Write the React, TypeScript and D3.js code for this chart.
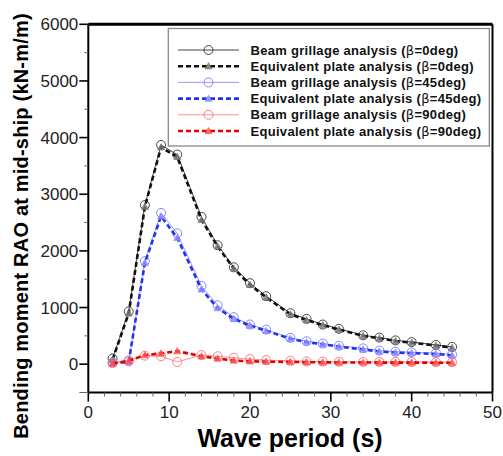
import React from "react";
import * as d3 from "d3";

const periods = [3, 5, 7, 9, 11, 14, 16, 18, 20, 22, 25, 27, 29, 31, 34, 36, 38, 40, 43, 45];

const beam0 = [100, 930, 2810, 3870, 3700, 2600, 2100, 1710, 1430, 1200, 900, 800, 700, 625, 510, 470, 420, 390, 340, 305];
const plate0 = [80, 900, 2780, 3830, 3660, 2550, 2080, 1690, 1400, 1180, 880, 780, 690, 610, 500, 455, 410, 380, 330, 290];
const beam45 = [30, 50, 1820, 2670, 2310, 1380, 1040, 830, 700, 610, 465, 405, 365, 325, 280, 240, 220, 210, 195, 170];
const plate45 = [20, 40, 1790, 2610, 2230, 1320, 990, 800, 680, 590, 450, 390, 350, 310, 260, 225, 205, 195, 180, 155];
const beam90 = [20, 70, 150, 140, 40, 160, 140, 112, 90, 72, 60, 50, 45, 42, 40, 40, 40, 38, 36, 35];
const plate90 = [10, 60, 160, 190, 230, 140, 100, 65, 50, 45, 40, 35, 32, 30, 30, 28, 28, 28, 26, 25];

const xTicks = [0, 10, 20, 30, 40, 50];
const yTicks = [0, 1000, 2000, 3000, 4000, 5000, 6000];

const legendLabels = [
  ["Beam grillage analysis (", "β", "=0deg)"],
  ["Equivalent plate analysis (", "β", "=0deg)"],
  ["Beam grillage analysis (", "β", "=45deg)"],
  ["Equivalent plate analysis (", "β", "=45deg)"],
  ["Beam grillage analysis (", "β", "=90deg)"],
  ["Equivalent plate analysis (", "β", "=90deg)"],
];

type Series = {
  values: number[];
  kind: "beam" | "plate";
  line: string;
  marker: string;
};

const series: Series[] = [
  { values: beam0, kind: "beam", line: "#444", marker: "#333" },
  { values: plate0, kind: "plate", line: "#111", marker: "#777" },
  { values: beam45, kind: "beam", line: "#9a9aff", marker: "#7777ff" },
  { values: plate45, kind: "plate", line: "#2233ee", marker: "#8888ff" },
  { values: beam90, kind: "beam", line: "#ff9090", marker: "#ff7070" },
  { values: plate90, kind: "plate", line: "#e00000", marker: "#ff5050" },
];

const W = 503;
const H = 456;
const left = 88.3;
const right = 492.5;
const top = 24.3;
const bottom = 392.5;

const FONT = "'Liberation Sans', Arial, sans-serif";

function Marker({ kind, x, y, color }: { kind: string; x: number; y: number; color: string }) {
  if (kind === "beam") {
    return <circle cx={x} cy={y} r={4.5} fill="none" stroke={color} strokeWidth={0.9} />;
  }
  const s = 3.6;
  const p = `M${x},${y - s} L${x + s},${y + s * 0.75} L${x - s},${y + s * 0.75} Z`;
  return <path d={p} fill={color} fillOpacity={0.85} stroke={color} strokeWidth={0.6} />;
}

export default function App() {
  const x = d3.scaleLinear().domain([0, 50]).range([left, right]);
  const y = d3.scaleLinear().domain([-500, 6000]).range([bottom, top]);

  const xMinor = d3.range(0, 51, 2).filter((v) => v % 10 !== 0);
  const yMinor = d3.range(-500, 6001, 500).filter((v) => v % 1000 !== 0);

  const lineGen = (vals: number[]) =>
    d3
      .line<number>()
      .x((_, i) => x(periods[i]))
      .y((d) => y(d))(vals) as string;

  const lgLeft = 168.3;
  const lgTop = 28.5;
  const lgRight = 489.3;
  const lgBottom = 146;
  const rowY0 = 50;
  const rowH = 16.2;

  return (
    <svg
      width={W}
      height={H}
      style={{ position: "absolute", left: 0, top: 0, background: "#fff" }}
      fontFamily={FONT}
    >
      <rect x={0} y={0} width={W} height={H} fill="#fff" />

      {series.map((s, k) => (
        <g key={k}>
          <path
            d={lineGen(s.values)}
            fill="none"
            stroke={s.line}
            strokeWidth={s.kind === "beam" ? 1 : 2.6}
            strokeDasharray={s.kind === "beam" ? undefined : "5,3"}
          />
          {s.values.map((v, i) => (
            <Marker key={i} kind={s.kind} x={x(periods[i])} y={y(v)} color={s.marker} />
          ))}
        </g>
      ))}

      <line x1={left} x2={right} y1={top} y2={top} stroke="#000" strokeWidth={3} />
      <line x1={right} x2={right} y1={top} y2={bottom} stroke="#000" strokeWidth={2} />
      <line x1={left} x2={right} y1={bottom} y2={bottom} stroke="#000" strokeWidth={2} />
      <line x1={left} x2={left} y1={top} y2={bottom} stroke="#000" strokeWidth={2} />

      {xTicks.map((t) => (
        <g key={t}>
          <line x1={x(t)} x2={x(t)} y1={bottom} y2={bottom + 9} stroke="#000" strokeWidth={1.6} />
          <text x={x(t)} y={418} textAnchor="middle" fontSize={17} fill="#222">
            {t}
          </text>
        </g>
      ))}
      {xMinor.map((t) => (
        <line key={t} x1={x(t)} x2={x(t)} y1={bottom} y2={bottom + 4} stroke="#666" strokeWidth={1} />
      ))}

      {yTicks.map((t) => (
        <g key={t}>
          <line x1={left - 9} x2={left} y1={y(t)} y2={y(t)} stroke="#000" strokeWidth={1.6} />
          <text x={left - 10} y={y(t) + 6} textAnchor="end" fontSize={17} fill="#222">
            {t}
          </text>
        </g>
      ))}
      {yMinor.map((t) => (
        <line
          key={t}
          x1={left - (t === -500 ? 9 : 4)}
          x2={left}
          y1={y(t)}
          y2={y(t)}
          stroke="#666"
          strokeWidth={1}
        />
      ))}

      <text x={290} y={447} textAnchor="middle" fontSize={25} fontWeight="bold" fill="#000">
        Wave period (s)
      </text>
      <text
        transform={`translate(28,226) rotate(-90)`}
        textAnchor="middle"
        fontSize={20}
        fontWeight="bold"
        fill="#000"
        letterSpacing={0.2}
      >
        Bending moment RAO at mid-ship (kN-m/m)
      </text>

      <rect
        x={lgLeft}
        y={lgTop}
        width={lgRight - lgLeft}
        height={lgBottom - lgTop}
        fill="#fff"
        stroke="#888"
        strokeWidth={1.3}
      />
      {series.map((s, k) => {
        const cy = rowY0 + k * rowH;
        return (
          <g key={k}>
            <line
              x1={178}
              x2={239}
              y1={cy}
              y2={cy}
              stroke={s.line}
              strokeWidth={s.kind === "beam" ? 1 : 2.6}
              strokeDasharray={s.kind === "beam" ? undefined : "5,3"}
            />
            <Marker kind={s.kind} x={208.5} y={cy} color={s.marker} />
            <text x={250.5} y={cy + 4.6} fontSize={13} fontWeight="bold" fill="#111" letterSpacing={0.3}>
              {legendLabels[k][0]}
              <tspan fontWeight="normal" fontFamily="'DejaVu Sans', sans-serif">{legendLabels[k][1]}</tspan>
              {legendLabels[k][2]}
            </text>
          </g>
        );
      })}
    </svg>
  );
}
